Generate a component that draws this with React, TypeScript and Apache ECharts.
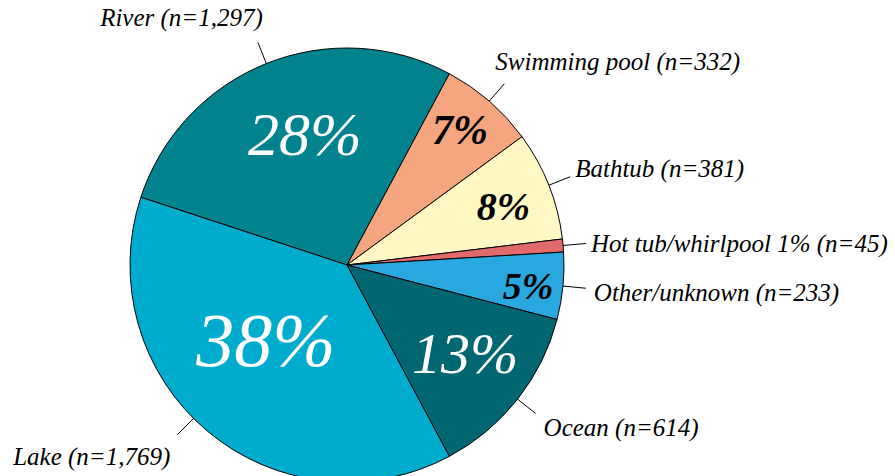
import React, { useEffect, useRef } from 'react';
import * as echarts from 'echarts';

// ---- data ----
const categories = ['River', 'Swimming pool', 'Bathtub', 'Hot tub/whirlpool', 'Other/unknown', 'Ocean', 'Lake'];
const counts = [1297, 332, 381, 45, 233, 614, 1769];
const sliceColors = ['#00838F', '#F6A67F', '#FFF8C3', '#E26A6A', '#29A8E0', '#006671', '#00ACCD'];
const showPctOutside = [false, false, false, true, false, false, false];

// ---- layout / style ----
const CENTER = [347, 265];
const RADIUS = 217;
const START = 161.8;
const FONT = 'Liberation Serif';

const insideStyle: any[] = [
  { frac: 0.635, dAng: -4, size: 62, color: '#fff', bold: false },
  { frac: 0.81, dAng: 1, size: 42, color: '#000', bold: true },
  { frac: 0.77, dAng: -1, size: 40, color: '#000', bold: true },
  null,
  { frac: 0.84, dAng: -1, size: 38, color: '#000', bold: true },
  { frac: 0.68, dAng: 1.4, size: 58, color: '#fff', bold: false },
  { frac: 0.51, dAng: -7, size: 76, color: '#fff', bold: false },
];

const outsideStyle: any[] = [
  { ang: null, dx: 5, dy: -25, align: 'right' },
  { ang: null, dx: -9, dy: -22, align: 'left' },
  { ang: null, dx: 5, dy: -8, align: 'left' },
  { ang: null, dx: 5, dy: 0, align: 'left' },
  { ang: null, dx: 8, dy: 4, align: 'left' },
  { ang: null, dx: 8, dy: 14, align: 'left' },
  { ang: 225, dx: -7, dy: 22, align: 'right' },
];
const LINE_LEN = 23;
const OUT_SIZE = 25;

const total = counts.reduce((a, b) => a + b, 0);
const midAngles: number[] = (() => {
  let cum = 0;
  return counts.map((v) => {
    const m = START - ((cum + v / 2) / total) * 360;
    cum += v;
    return m;
  });
})();
const pct = (v: number) => Math.round((v / total) * 100);
const polar = (angDeg: number, r: number) => {
  const a = (angDeg * Math.PI) / 180;
  return [CENTER[0] + r * Math.cos(a), CENTER[1] - r * Math.sin(a)];
};

let measureCtx: CanvasRenderingContext2D | null = null;
function textWidth(text: string, font: string) {
  if (!measureCtx) measureCtx = document.createElement('canvas').getContext('2d');
  if (!measureCtx) return text.length * 10;
  measureCtx.font = font;
  return measureCtx.measureText(text).width;
}

// place a text (top-left anchored, like zrender's default) from an anchor point
function placedText(text: string, font: string, size: number, fill: string, ax: number, ay: number, align: string) {
  const w = textWidth(text, font);
  const x = align === 'right' ? ax - w : align === 'center' ? ax - w / 2 : ax;
  const y = ay - size / 2;
  return { type: 'text', x, y, z: 10, style: { text, font, fill } };
}

function buildGraphics() {
  const els: any[] = [];
  categories.forEach((name, i) => {
    const s = insideStyle[i];
    if (s) {
      const [x, y] = polar(midAngles[i] + s.dAng, RADIUS * s.frac);
      const font = `italic ${s.bold ? 'bold ' : ''}${s.size}px ${FONT}`;
      els.push(placedText(`${pct(counts[i])}%`, font, s.size, s.color, x, y, 'center'));
    }
    const o = outsideStyle[i];
    const ang = o.ang == null ? midAngles[i] : o.ang;
    const p0 = polar(ang, RADIUS);
    const p1 = polar(ang, RADIUS + LINE_LEN);
    els.push({
      type: 'line',
      z: 10,
      shape: { x1: p0[0], y1: p0[1], x2: p1[0], y2: p1[1] },
      style: { stroke: '#000', lineWidth: 1 },
    });
    const n = counts[i].toLocaleString('en-US');
    const label = showPctOutside[i] ? `${name} ${pct(counts[i])}% (n=${n})` : `${name} (n=${n})`;
    els.push(placedText(label, `italic ${OUT_SIZE}px ${FONT}`, OUT_SIZE, '#000', p1[0] + o.dx, p1[1] + o.dy, o.align));
  });
  return els;
}

export default function App() {
  const ref = useRef<HTMLDivElement>(null);
  useEffect(() => {
    if (!ref.current) return;
    const chart = echarts.init(ref.current, null, { renderer: 'svg' });
    const option: any = {
      animation: false,
      series: [
        {
          type: 'pie',
          center: CENTER,
          radius: RADIUS,
          startAngle: START,
          clockwise: true,
          silent: true,
          itemStyle: { borderColor: '#000', borderWidth: 1 },
          label: { show: false },
          labelLine: { show: false },
          data: categories.map((name, i) => ({
            name,
            value: counts[i],
            itemStyle: { color: sliceColors[i] },
          })),
        },
      ],
      graphic: buildGraphics(),
    };
    chart.setOption(option);
    return () => chart.dispose();
  }, []);
  return (
    <div
      ref={ref}
      style={{ position: 'absolute', left: 0, top: 0, width: 895, height: 476 }}
    />
  );
}
